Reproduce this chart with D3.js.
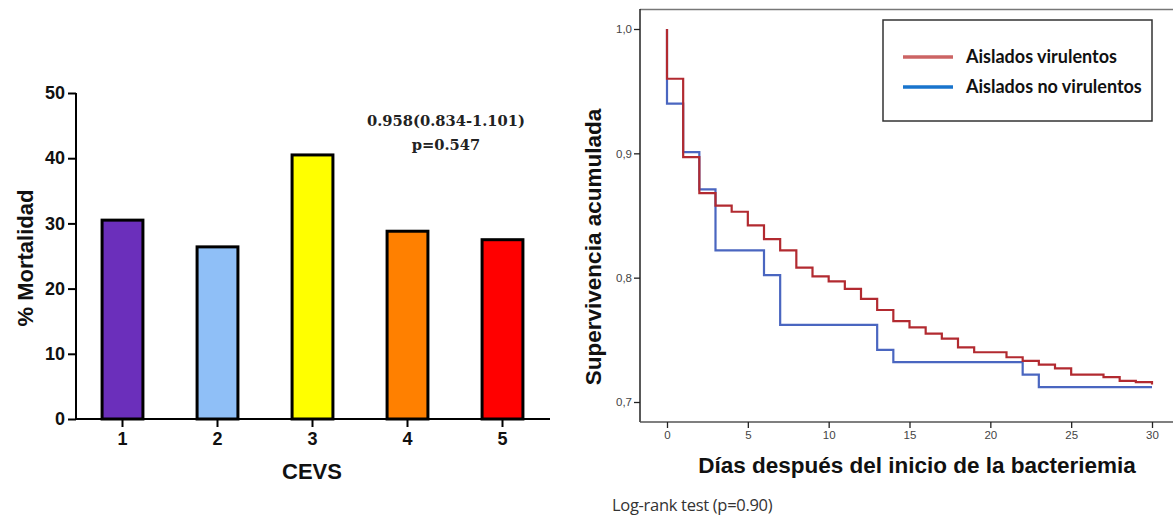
<!DOCTYPE html>
<html>
<head>
<meta charset="utf-8">
<script src="https://cdn.jsdelivr.net/npm/d3@7"></script>
<style>
  body { margin: 0; background: #fff; }
  svg { display: block; }
</style>
</head>
<body>
<svg width="1173" height="517"></svg>
<script>
// ---- data ----
var cevsGroups = ["1", "2", "3", "4", "5"];
var mortality = [30.5, 26.4, 40.5, 28.8, 27.5];
var barColors = ["#6b2fbb", "#8fbff7", "#ffff00", "#ff8000", "#ff0000"];
var yTicksLeft = [0, 10, 20, 30, 40, 50];

var annotLines = ["0.958(0.834-1.101)", "p=0.547"];

var seriesNames = ["Aislados virulentos", "Aislados no virulentos"];
var virDays = [0, 0, 1, 2, 3, 4, 5, 6, 7, 8, 9, 10, 11, 12, 13, 14, 15, 16, 17, 18, 19, 21, 22, 23, 24, 25, 27, 28, 29, 30, 30];
var virSurv = [1.0, 0.96, 0.897, 0.868, 0.858, 0.853, 0.842, 0.831, 0.822, 0.808, 0.801, 0.797, 0.791, 0.783, 0.774, 0.765, 0.760, 0.755, 0.751, 0.744, 0.740, 0.736, 0.733, 0.730, 0.727, 0.722, 0.720, 0.717, 0.716, 0.716, 0.714];
var noVirDays = [0, 0, 1, 2, 3, 6, 7, 13, 14, 22, 23, 30];
var noVirSurv = [1.0, 0.94, 0.901, 0.871, 0.822, 0.802, 0.762, 0.742, 0.732, 0.722, 0.712, 0.712];
var xTicksRight = [0, 5, 10, 15, 20, 25, 30];
var yTicksRight = [0.7, 0.8, 0.9, 1.0];

var svg = d3.select("svg");

// ================= left: bar chart =================
var x = d3.scaleBand().domain(cevsGroups).range([75, 550]).paddingInner(0.57).paddingOuter(0.285),
    y = d3.scaleLinear().domain([0, 50]).range([419, 93]);

var left = svg.append("g");

left.selectAll(".bar")
    .data(cevsGroups)
    .enter().append("rect")
    .attr("class", "bar")
    .attr("x", function (d) { return x(d); })
    .attr("width", x.bandwidth())
    .attr("y", function (d, i) { return y(mortality[i]); })
    .attr("height", function (d, i) { return y(0) - y(mortality[i]); })
    .attr("fill", function (d, i) { return barColors[i]; })
    .attr("stroke", "#000")
    .attr("stroke-width", 3);

var yAxisL = left.append("g") //y axis
    .attr("transform", "translate(76,0)")
    .call(d3.axisLeft(y).tickValues(yTicksLeft).tickSize(8).tickPadding(3));
var xAxisL = left.append("g") //x axis
    .attr("transform", "translate(0,419)")
    .call(d3.axisBottom(x).tickSize(8).tickPadding(5));

[yAxisL, xAxisL].forEach(function (a) {
    a.select(".domain").attr("stroke", "#000").attr("stroke-width", 2);
    a.selectAll(".tick line").attr("stroke", "#000").attr("stroke-width", 2);
    a.selectAll(".tick text")
        .attr("fill", "#111")
        .style("font", "bold 18px 'Liberation Sans', Arial, sans-serif");
});
xAxisL.select(".domain").attr("d", "M75,0H550");
yAxisL.select(".domain").attr("d", "M0,93V419");

left.append("text") //y label
    .attr("transform", "translate(33,258) rotate(-90)")
    .style("text-anchor", "middle")
    .style("font", "bold 22px 'Liberation Sans', Arial, sans-serif")
    .attr("fill", "#111")
    .text("% Mortalidad");

left.append("text") //x label
    .attr("x", 312)
    .attr("y", 479)
    .style("text-anchor", "middle")
    .style("font", "bold 22px 'Liberation Sans', Arial, sans-serif")
    .attr("fill", "#111")
    .text("CEVS");

left.selectAll(".annot")
    .data(annotLines)
    .enter().append("text")
    .attr("class", "annot")
    .attr("x", 446)
    .attr("y", function (d, i) { return 126 + i * 24; })
    .style("text-anchor", "middle")
    .style("font", "bold 14.7px 'DejaVu Serif', serif")
    .attr("fill", "#222")
    .text(function (d) { return d; });

// ================= right: survival curves =================
var xs = d3.scaleLinear().domain([0, 30]).range([667, 1152]),
    ys = d3.scaleLinear().domain([0.7, 1.0]).range([402, 29]);

var right = svg.append("g");

right.append("line") //frame top
    .attr("x1", 640).attr("x2", 1173).attr("y1", 9.5).attr("y2", 9.5)
    .attr("stroke", "#777").attr("stroke-width", 1.5);

var yAxisR = right.append("g")
    .attr("transform", "translate(640,0)")
    .call(d3.axisLeft(ys).tickValues(yTicksRight).tickSize(6).tickPadding(2)
        .tickFormat(function (d) { return d3.format(".1f")(d).replace(".", ","); }));
var xAxisR = right.append("g")
    .attr("transform", "translate(0,422)")
    .call(d3.axisBottom(xs).tickValues(xTicksRight).tickSize(6).tickPadding(3));

yAxisR.select(".domain").attr("d", "M0,9V422").attr("stroke", "#222").attr("stroke-width", 1.5);
xAxisR.select(".domain").attr("d", "M640,0H1173").attr("stroke", "#555").attr("stroke-width", 1.5);
[yAxisR, xAxisR].forEach(function (a) {
    a.selectAll(".tick line").attr("stroke", "#222").attr("stroke-width", 1.3);
    a.selectAll(".tick text")
        .attr("fill", "#444")
        .style("font", "11.5px 'Liberation Sans Narrow', 'Liberation Sans', Arial, sans-serif");
});

var line = d3.line() //step function, survival drops at event time
    .curve(d3.curveStepAfter)
    .x(function (d) { return xs(d[0]); })
    .y(function (d) { return ys(d[1]); });

var noVir = d3.zip(noVirDays, noVirSurv),
    vir = d3.zip(virDays, virSurv);

right.append("path")
    .datum(noVir)
    .attr("d", line)
    .attr("fill", "none")
    .attr("stroke", "#4a66c0")
    .attr("stroke-width", 2.2);

right.append("path")
    .datum(vir)
    .attr("d", line)
    .attr("fill", "none")
    .attr("stroke", "#b22a30")
    .attr("stroke-width", 2.2);

right.append("text") //y label
    .attr("transform", "translate(601,247) rotate(-90)")
    .style("text-anchor", "middle")
    .style("font", "bold 22.5px 'Liberation Sans', Arial, sans-serif")
    .attr("fill", "#111")
    .text("Supervivencia acumulada");

right.append("text") //x label
    .attr("x", 917)
    .attr("y", 473)
    .style("text-anchor", "middle")
    .style("font", "bold 22.5px 'Liberation Sans', Arial, sans-serif")
    .attr("fill", "#111")
    .text("Días después del inicio de la bacteriemia");

right.append("text")
    .attr("x", 612)
    .attr("y", 511)
    .style("font", "16.5px 'Open Sans', sans-serif")
    .style("letter-spacing", "-0.3px")
    .attr("fill", "#333")
    .text("Log-rank test (p=0.90)");

// legend
var legend = right.append("g");
legend.append("rect")
    .attr("x", 883).attr("y", 20).attr("width", 269).attr("height", 101)
    .attr("fill", "#fff").attr("stroke", "#333").attr("stroke-width", 1.5);

var legendColors = ["#cc6464", "#1874cd"];
var item = legend.selectAll(".item")
    .data(seriesNames)
    .enter().append("g")
    .attr("class", "item")
    .attr("transform", function (d, i) { return "translate(0," + (57 + i * 30) + ")"; });
item.append("line")
    .attr("x1", 903).attr("x2", 953)
    .attr("stroke", function (d, i) { return legendColors[i]; })
    .attr("stroke-width", 3.5);
item.append("text")
    .attr("x", 966)
    .attr("dy", "0.35em")
    .style("font", "bold 18px Lato, sans-serif")
    .attr("fill", "#111")
    .text(function (d) { return d; });
</script>
</body>
</html>
